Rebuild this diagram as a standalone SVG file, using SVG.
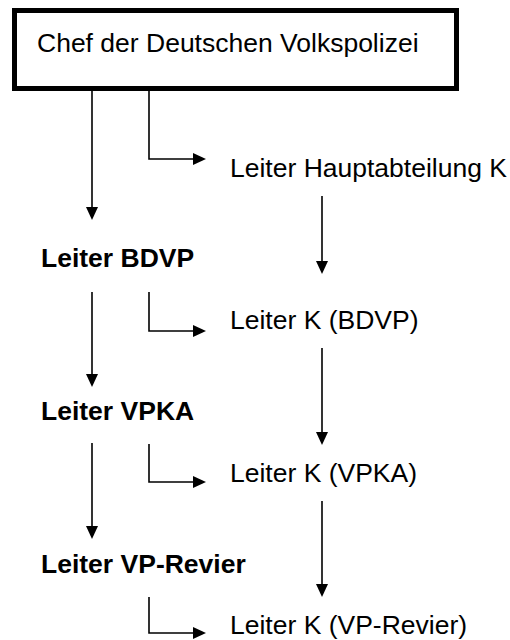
<svg xmlns="http://www.w3.org/2000/svg" width="510" height="640" viewBox="0 0 510 640">
<style>
  .t { font-family: "Liberation Sans", Arial, sans-serif; font-size: 26.5px; fill: #000; }
  .b { font-weight: bold; }
  .c { fill: none; stroke: #000; stroke-width: 1.6; }
</style>
<defs>
  <marker id="ah" viewBox="0 -6 13 12" markerWidth="13" markerHeight="12" refX="0" refY="0" orient="auto" markerUnits="userSpaceOnUse">
    <path d="M0,-6 L13,0 L0,6 z" fill="#000"/>
  </marker>
</defs>
<rect width="510" height="640" fill="#fff"/>
<g id="chef">
  <rect x="14.5" y="10.5" width="442" height="78" fill="#fff" stroke="#000" stroke-width="5"/>
  <text class="t" x="37" y="52">Chef der Deutschen Volkspolizei</text>
</g>
<g id="hauptabteilung"><text class="t" x="230" y="177">Leiter Hauptabteilung K</text></g>
<g id="bdvp"><text class="t b" x="41" y="267">Leiter BDVP</text></g>
<g id="k-bdvp"><text class="t" x="230" y="329">Leiter K (BDVP)</text></g>
<g id="vpka"><text class="t b" x="41" y="420">Leiter VPKA</text></g>
<g id="k-vpka"><text class="t" x="230" y="482">Leiter K (VPKA)</text></g>
<g id="revier"><text class="t b" x="41" y="573">Leiter VP-Revier</text></g>
<g id="k-revier"><text class="t" x="230" y="634">Leiter K (VP-Revier)</text></g>
<g id="connectors">
  <path class="c" d="M92,91 V207" marker-end="url(#ah)"/>
  <path class="c" d="M92,292 V374" marker-end="url(#ah)"/>
  <path class="c" d="M92,443 V526" marker-end="url(#ah)"/>
  <path class="c" d="M322,196 V261" marker-end="url(#ah)"/>
  <path class="c" d="M322,348 V432" marker-end="url(#ah)"/>
  <path class="c" d="M322,501 V584" marker-end="url(#ah)"/>
  <path class="c" d="M149,91 V159 H193" marker-end="url(#ah)"/>
  <path class="c" d="M149,292 V331 H193" marker-end="url(#ah)"/>
  <path class="c" d="M149,444 V482 H193" marker-end="url(#ah)"/>
  <path class="c" d="M149,597 V633 H193" marker-end="url(#ah)"/>
</g>
</svg>
